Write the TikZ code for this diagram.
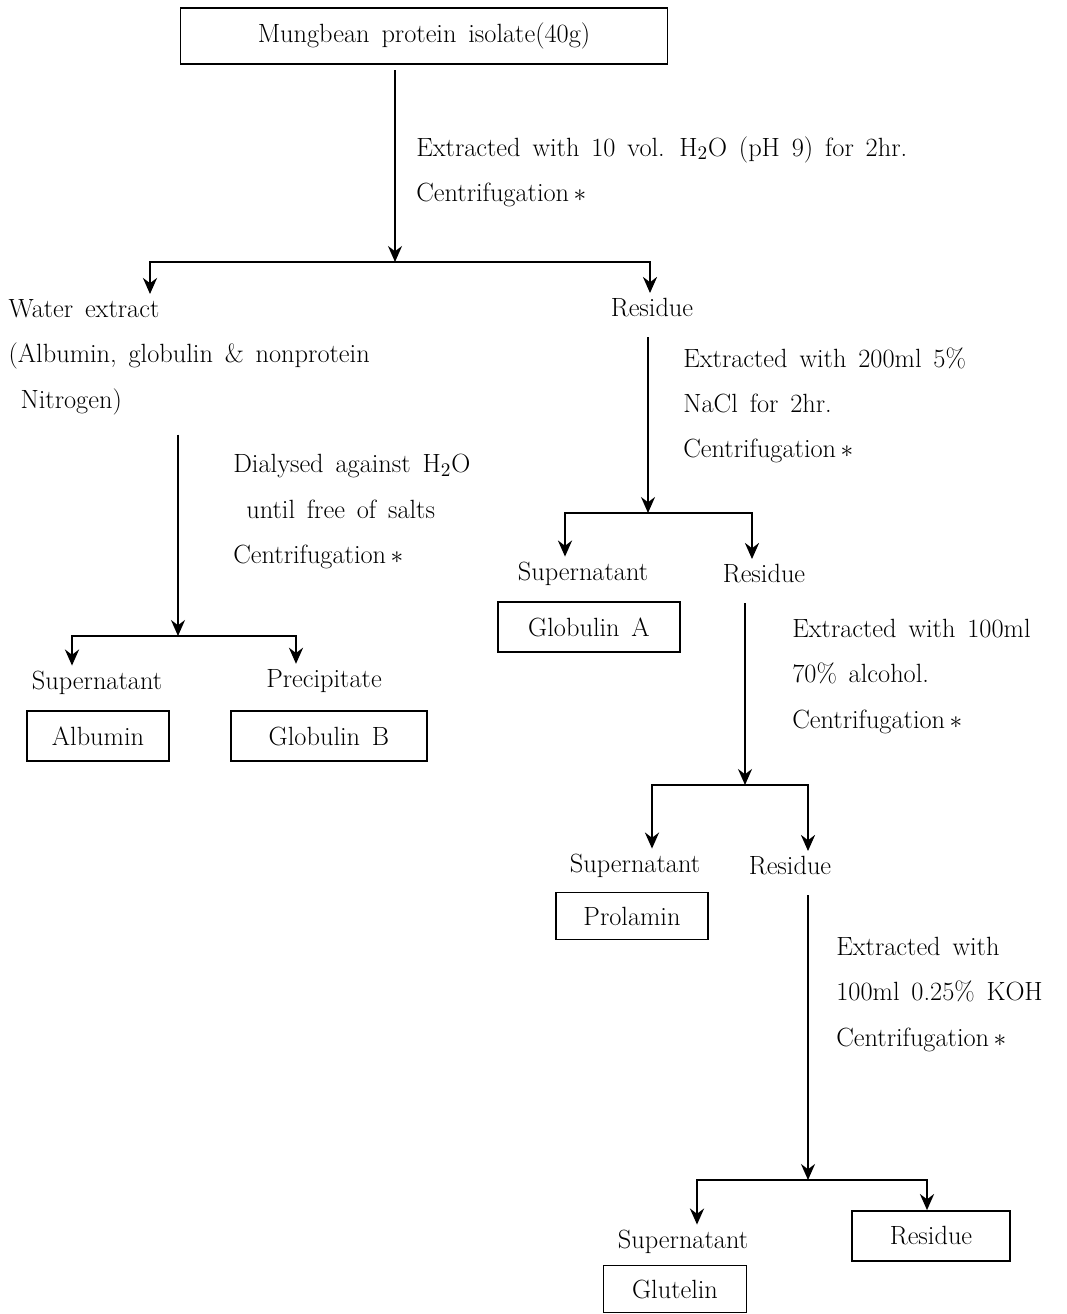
\documentclass[tikz,border=0pt]{standalone}
\usepackage{amsmath}
\usetikzlibrary{arrows.meta,positioning,calc}
\newcommand{\chartfont}{\fontsize{15}{25.8}\selectfont\spaceskip=0.45em\relax}

\begin{document}
\begin{tikzpicture}[x=0.2mm,y=-0.2mm,
  box/.style={draw,line width=1pt,minimum height=1cm,font=\chartfont},
  word/.style={inner sep=3pt,font=\chartfont},
  note/.style={anchor=north west,inner sep=0pt,align=left,font=\chartfont},
  flow/.style={-{Stealth[length=3.2mm,width=2.8mm]},line width=1pt,shorten <=8pt},
  drop/.style={-{Stealth[length=3.2mm,width=2.8mm]},line width=1.6pt}
]
  \useasboundingbox (0,0) rectangle (1066,1314);

  % Starting material
  \node[box,minimum width=9.74cm,minimum height=1.12cm] (isolate) at (424,36) {Mungbean protein isolate(40g)};
  \coordinate (f1) at (395,262);
  \coordinate (f1l) at (150,262);
  \coordinate (f1r) at (650,262);
  \draw[flow,shorten <=3pt] (isolate.south -| f1) -- (f1);
  \node[note] (step1) at (416,136) {Extracted with 10 vol. H$_2$O (pH 9) for 2hr.\\Centrifugation\,$\ast$};

  \node[note,inner sep=3pt] (water) at (3,294) {Water extract\\(Albumin, globulin \& nonprotein\\\hspace*{0.24cm}Nitrogen)};
  \node[word] (res1) at (652,308) {Residue};
  \draw[drop] (f1) -| (water.north -| f1l);
  \draw[drop] (f1) -| (res1.north -| f1r);

  % Water extract branch
  \coordinate (f3) at (178,636);
  \coordinate (f3l) at (72,636);
  \coordinate (f3r) at (296,636);
  \draw[flow] (water.south -| f3) -- (f3);
  \node[note] (step3) at (233,454) {Dialysed against H$_2$O\\\hspace*{0.26cm}until free of salts\\Centrifugation\,$\ast$};
  \node[word] (sup1) at (97,683) {Supernatant};
  \node[word] (prec) at (324,681) {Precipitate};
  \draw[drop] (f3) -| (sup1.north -| f3l);
  \draw[drop] (f3) -| (prec.north -| f3r);
  \node[box,minimum width=2.84cm] (albumin) at (98,736) {Albumin};
  \node[box,minimum width=3.92cm] (globB) at (329,736) {Globulin B};

  % NaCl extraction
  \coordinate (f2) at (648,513);
  \coordinate (f2l) at (565,513);
  \coordinate (f2r) at (752,513);
  \draw[flow] (res1.south -| f2) -- (f2);
  \node[note] (step2) at (683,347) {Extracted with 200ml 5\%\\NaCl for 2hr.\\Centrifugation\,$\ast$};
  \node[word] (sup2) at (583,574) {Supernatant};
  \node[word] (res2) at (764,574) {Residue};
  \draw[drop] (f2) -| (sup2.north -| f2l);
  \draw[drop] (f2) -| (res2.north -| f2r);
  \node[box,minimum width=3.64cm] (globA) at (589,627) {Globulin A};

  % alcohol extraction
  \coordinate (f4) at (745,785);
  \coordinate (f4l) at (652,785);
  \coordinate (f4r) at (808,785);
  \draw[flow] (res2.south -| f4) -- (f4);
  \node[note] (step4) at (792,619) {Extracted with 100ml\\70\% alcohol.\\Centrifugation\,$\ast$};
  \node[word] (sup3) at (635,866) {Supernatant};
  \node[word] (res3) at (790,866) {Residue};
  \draw[drop] (f4) -| (sup3.north -| f4l);
  \draw[drop] (f4) -| (res3.north -| f4r);
  \node[box,minimum width=3.04cm,minimum height=0.94cm] (prolamin) at (632,916) {Prolamin};

  % KOH extraction
  \coordinate (f5) at (808,1180);
  \coordinate (f5l) at (697,1180);
  \coordinate (f5r) at (927,1180);
  \draw[flow] (res3.south -| f5) -- (f5);
  \node[note] (step5) at (836,937) {Extracted with\\100ml 0.25\% KOH\\Centrifugation\,$\ast$};
  \node[word] (sup4) at (683,1242) {Supernatant};
  \node[box,minimum width=3.16cm] (res4) at (931,1236) {Residue};
  \draw[drop] (f5) -| (sup4.north -| f5l);
  \draw[drop] (f5) -| (res4.north -| f5r);
  \node[box,minimum width=2.86cm,minimum height=0.94cm] (glutelin) at (675,1289) {Glutelin};
\end{tikzpicture}
\end{document}
